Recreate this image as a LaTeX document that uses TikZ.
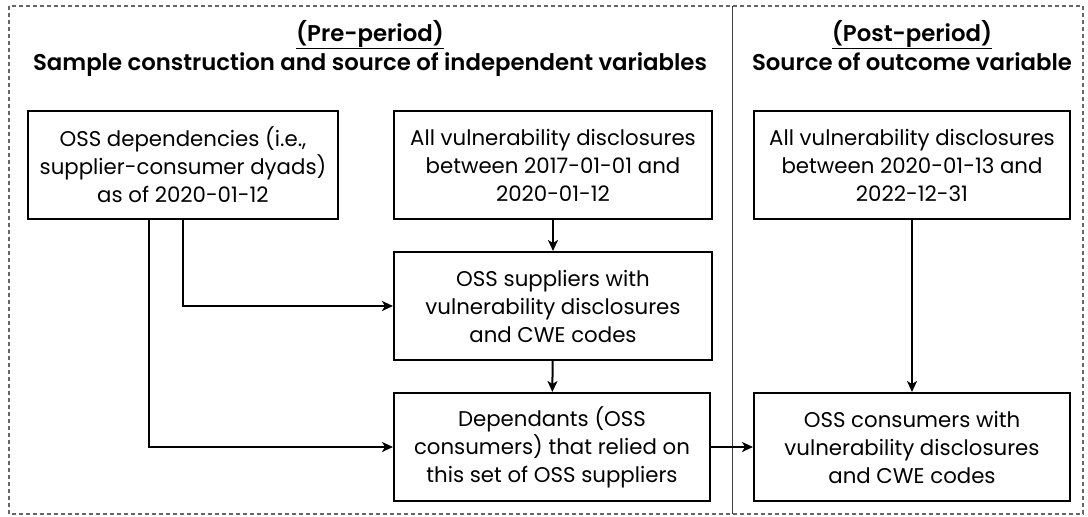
\documentclass[tikz,border=0pt]{standalone}
\usepackage{fontspec}
\setmainfont{Poppins}[BoldFont={Poppins SemiBold}]
\usetikzlibrary{arrows.meta}
\begin{document}
\begin{tikzpicture}[x=1pt, y=-1pt,
    box/.style={draw, line width=2pt, minimum width=318pt, minimum height=108pt,
                align=center, inner sep=2pt, font=\fontsize{21.3}{28}\selectfont},
    heading/.style={anchor=base, font=\bfseries\fontsize{22.8}{27}\selectfont},
    arr/.style={line width=2pt, -{Stealth[length=11pt, width=10pt, inset=3pt]}}]
    \useasboundingbox (0, 0) rectangle (1088, 517);

    % frame and divider
    \draw[gray!80!black, line width=1.2pt, dash pattern=on 4pt off 3pt] (9, 6) rectangle (1083, 514);
    \coordinate (top) at (732, 6);
    \coordinate (bottom) at (732, 514);
    \draw[black!75, line width=1pt] (top) -- (bottom);

    % headings
    \node[heading] (pretag) at (370, 41) {\underline{(Pre-period)}};
    \node[heading] (pre) at (370, 70) {Sample construction and source of independent variables};
    \node[heading] (posttag) at (912, 41) {\underline{(Post-period)}};
    \node[heading] (post) at (912, 70) {Source of outcome variable};

    % boxes
    \node[box, minimum width=310pt] (A) at (183, 165) {OSS dependencies (i.e.,\\supplier-consumer dyads)\\as of 2020-01-12};
    \node[box] (B) at (553, 165) {All vulnerability disclosures\\between 2017-01-01 and\\2020-01-12};
    \node[box] (C) at (553, 306) {OSS suppliers with\\vulnerability disclosures\\and CWE codes};
    \node[box, minimum width=316pt] (D) at (552, 447) {Dependants (OSS\\consumers) that relied on\\this set of OSS suppliers};
    \node[box, minimum width=316pt] (E) at (912, 165) {All vulnerability disclosures\\between 2020-01-13 and\\2022-12-31};
    \node[box, minimum width=316pt] (F) at (912, 447) {OSS consumers with\\vulnerability disclosures\\and CWE codes};

    % connectors
    \draw[arr] (B) -- (C);
    \draw[arr] (C) -- (D);
    \draw[arr] (E) -- (F);
    \draw[arr] (D) -- (F);
    \draw[arr] (A.south) |- (C.west);
    \draw[arr] ([xshift=-34pt]A.south) |- (D.west);
\end{tikzpicture}
\end{document}
